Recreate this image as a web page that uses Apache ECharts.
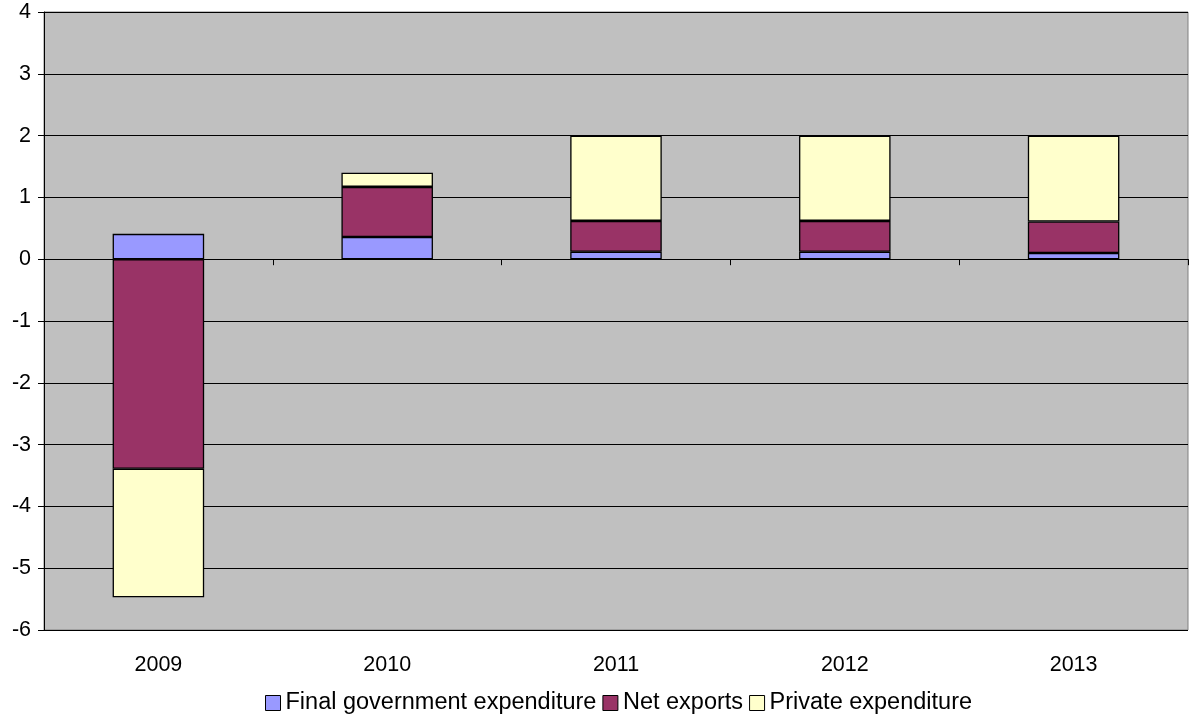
<!DOCTYPE html>
<html>
<head>
<meta charset="utf-8">
<script src="https://cdn.jsdelivr.net/npm/echarts@6/dist/echarts.min.js"></script>
<style>
html,body{margin:0;padding:0;background:#fff;}
#chart{width:1201px;height:720px;}
</style>
</head>
<body>
<div id="chart"></div>
<script>
var categories = ['2009', '2010', '2011', '2012', '2013'];
var govExpenditure = [0.41, 0.36, 0.12, 0.12, 0.10];
var netExports = [-3.39, 0.81, 0.50, 0.50, 0.51];
var privateExpenditure = [-2.08, 0.23, 1.38, 1.38, 1.39];
var seriesNames = ['Final government expenditure', 'Net exports', 'Private expenditure'];

var FONT = '"Liberation Sans", Arial, sans-serif';
var chart = echarts.init(document.getElementById('chart'));

function barSeries(name, data, color) {
  return {
    name: name,
    type: 'bar',
    stack: 'total',
    xAxisIndex: 0,
    barWidth: '40%',
    data: data,
    itemStyle: { color: color, borderColor: '#000', borderWidth: 1.3 },
    emphasis: { disabled: true }
  };
}

chart.setOption({
  animation: false,
  backgroundColor: '#ffffff',
  grid: {
    left: 44, right: 13, top: 12, bottom: 90,
    show: true, backgroundColor: '#c0c0c0', borderColor: '#808080', borderWidth: 1
  },
  legend: {
    bottom: 0,
    left: 260,
    itemWidth: 15,
    itemHeight: 15,
    itemGap: 6,
    icon: 'rect',
    textStyle: { fontFamily: FONT, fontSize: 23.5, color: '#000' },
    itemStyle: { borderColor: '#000', borderWidth: 1 },
    data: seriesNames
  },
  xAxis: [
    {
      type: 'category',
      data: categories,
      position: 'bottom',
      axisLine: { show: false, onZero: false },
      axisTick: { show: false },
      axisLabel: { fontFamily: FONT, fontSize: 21.5, color: '#000', margin: 24 },
      splitLine: { show: false }
    },
    {
      type: 'category',
      data: categories,
      position: 'bottom',
      axisLine: { show: true, onZero: true, lineStyle: { color: '#000', width: 1 } },
      axisTick: { show: true, length: 6, lineStyle: { color: '#000' } },
      axisLabel: { show: false },
      splitLine: { show: false }
    }
  ],
  yAxis: {
    type: 'value',
    min: -6, max: 4, interval: 1,
    axisLine: { show: true, lineStyle: { color: '#000', width: 1 } },
    axisTick: { show: true, length: 6, lineStyle: { color: '#000' } },
    axisLabel: { fontFamily: FONT, fontSize: 21.5, color: '#000', margin: 13 },
    splitLine: { show: true, lineStyle: { color: '#000', width: 1 } }
  },
  series: [
    barSeries(seriesNames[0], govExpenditure, '#9999ff'),
    barSeries(seriesNames[1], netExports, '#993366'),
    barSeries(seriesNames[2], privateExpenditure, '#ffffcc')
  ]
});
</script>
</body>
</html>
